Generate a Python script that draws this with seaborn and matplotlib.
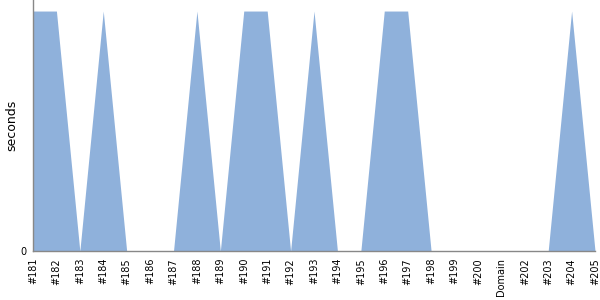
import matplotlib
matplotlib.use("Agg")
import matplotlib.pyplot as plt
import seaborn as sns
import numpy as np
import pandas as pd

labels = ["#181", "#182", "#183", "#184", "#185", "#186", "#187", "#188", "#189",
          "#190", "#191", "#192", "#193", "#194", "#195", "#196", "#197", "#198",
          "#199", "#200", "Domain", "#202", "#203", "#204", "#205"]
seconds = [1, 1, 0, 1, 0, 0, 0, 1, 0, 1, 1, 0, 1, 0, 0, 1, 1, 0, 0, 0, 0, 0, 0, 1, 0]

df = pd.DataFrame({"build": labels, "seconds": seconds})
df["pos"] = np.arange(len(df))

sns.set_style("white")
plt.rcParams['font.family'] = ['DejaVu Sans']

fig = plt.figure(figsize=(6, 3), dpi=100)
ax = fig.add_axes([0.055, 0.1633, 0.9367, 0.8367])

sns.lineplot(data=df, x="pos", y="seconds", ax=ax, color="#8fb1db", linewidth=0)
ax.fill_between(df["pos"], df["seconds"], color="#8fb1db", linewidth=0)

ax.set_xlim(0, len(df) - 1)
ax.set_ylim(0, max(seconds) * 1.046)
ax.set_xticks(df["pos"])
ax.set_xticklabels(df["build"], rotation=90, fontsize=7, color="black")
ax.set_yticks([0])
ax.set_yticklabels(["0"], fontsize=7, color="black")
ax.set_xlabel("")
ax.set_ylabel("seconds", fontsize=9, color="black", labelpad=1)
for s in ["top", "right"]:
    ax.spines[s].set_visible(False)
for s in ["left", "bottom"]:
    ax.spines[s].set_color("#888888")
    ax.spines[s].set_linewidth(1)
ax.tick_params(axis="both", which="both", length=3, width=1, color="#888888", pad=2)

fig.savefig("out.png", dpi=100)
